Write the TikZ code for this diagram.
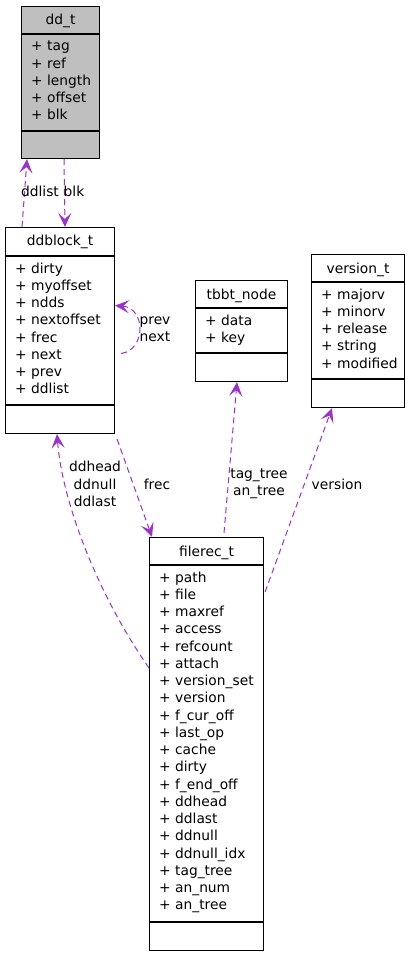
\documentclass[tikz,border=0pt]{standalone}
\usepackage{fontspec}
\setmainfont{DejaVu Sans}
\usepackage{tikz}
\usetikzlibrary{calc,arrows.meta,positioning}
\definecolor{relPurple}{RGB}{154,50,205}
\definecolor{boxGray}{RGB}{191,191,191}

\begin{document}
\begin{tikzpicture}[x=1pt,y=-1pt,
  every node/.style={font=\fontsize{13.8}{17.3}\selectfont},
  classbox/.style 2 args={draw=black, line width=1.1pt, anchor=north west, inner sep=0pt, minimum width=#1, minimum height=#2},
  classname/.style={anchor=base, inner sep=0pt},
  member/.style={anchor=base west, inner sep=0pt},
  rel/.style={relPurple, line width=1pt, dash pattern=on 6pt off 4pt, -{Stealth[length=14pt,width=13pt,inset=6pt]}},
  lbl/.style={align=center, inner sep=0pt}]
\useasboundingbox (0,0) rectangle (409,957);

% dd_t
\node[classbox={78pt}{152pt}, fill=boxGray] (ddt) at (21,6) {};
\draw[line width=1.1pt] ($(ddt.north west)+(0,28)$) -- +(78,0)
  ($(ddt.north west)+(0,125)$) -- +(78,0);
\node[classname] (ddt-name) at ($(ddt.north)+(0,19)$) {dd\_t};
\foreach \m [count=\i from 0] in {tag,ref,length,offset,blk}
  \node[member] (ddt-m\i) at ($(ddt.north west)+(10,{45+17.25*\i})$) {+ \m};

% ddblock_t
\node[classbox={109pt}{206pt}] (ddblock) at (5,227) {};
\draw[line width=1.1pt] ($(ddblock.north west)+(0,29)$) -- +(109,0)
  ($(ddblock.north west)+(0,178)$) -- +(109,0);
\node[classname] (ddblock-name) at ($(ddblock.north)+(0,19)$) {ddblock\_t};
\foreach \m [count=\i from 0] in {dirty,myoffset,ndds,nextoffset,frec,next,prev,ddlist}
  \node[member] (ddblock-m\i) at ($(ddblock.north west)+(10,{46+17.25*\i})$) {+ \m};

% tbbt_node
\node[classbox={92pt}{101pt}] (tbbt) at (195,280) {};
\draw[line width=1.1pt] ($(tbbt.north west)+(0,28)$) -- +(92,0)
  ($(tbbt.north west)+(0,73)$) -- +(92,0);
\node[classname] (tbbt-name) at ($(tbbt.north)+(0,19)$) {tbbt\_node};
\foreach \m [count=\i from 0] in {data,key}
  \node[member] (tbbt-m\i) at ($(tbbt.north west)+(10,{45+17.25*\i})$) {+ \m};

% version_t
\node[classbox={93pt}{153pt}] (version) at (311,254) {};
\draw[line width=1.1pt] ($(version.north west)+(0,28)$) -- +(93,0)
  ($(version.north west)+(0,125)$) -- +(93,0);
\node[classname] (version-name) at ($(version.north)+(0,19)$) {version\_t};
\foreach \m [count=\i from 0] in {majorv,minorv,release,string,modified}
  \node[member] (version-m\i) at ($(version.north west)+(10,{45+17.25*\i})$) {+ \m};

% filerec_t
\node[classbox={114pt}{413pt}] (filerec) at (149,537) {};
\draw[line width=1.1pt] ($(filerec.north west)+(0,28)$) -- +(114,0)
  ($(filerec.north west)+(0,385)$) -- +(114,0);
\node[classname] (filerec-name) at ($(filerec.north)+(0,19)$) {filerec\_t};
\foreach \m [count=\i from 0] in {path,file,maxref,access,refcount,attach,version\_set,version,
    f\_cur\_off,last\_op,cache,dirty,f\_end\_off,ddhead,ddlast,ddnull,ddnull\_idx,tag\_tree,an\_num,an\_tree}
  \node[member] (filerec-m\i) at ($(filerec.north west)+(10,{45+17.25*\i})$) {+ \m};

% relations
\draw[rel] ($(ddblock.north west)+(17,0)$) -- ($(ddt.south west)+(6,0)$);
\draw[rel] ($(ddt.south west)+(43,0)$) -- ($(ddblock.north west)+(60,0)$);
\draw[rel] ($(ddblock.east)+(6,23)$) .. controls (146,350) and (146,308) .. ($(ddblock.east)+(0,-25)$);
\draw[rel] ($(filerec.north west)+(0,131)$) .. controls (96,592) and (62,500) .. ($(ddblock.south west)+(52,0)$);
\draw[rel] ($(ddblock.south east)+(2,5)$) -- ($(filerec.north west)+(3,0)$);
\draw[rel] ($(filerec.north west)+(75,-4)$) -- ($(tbbt.south west)+(42,0)$);
\draw[rel] ($(filerec.north east)+(1,55)$) -- ($(version.south west)+(21,0)$);

\node[lbl] (l-ddlist) at (40,191) {ddlist};
\node[lbl] (l-blk) at (74,191) {blk};
\node[lbl] (l-prevnext) at (155,329) {prev\\next};
\node[lbl] (l-ddhead) at (95,484) {ddhead\\ddnull\\ddlast};
\node[lbl] (l-frec) at (157,484) {frec};
\node[lbl] (l-tree) at (259,484) {tag\_tree\\an\_tree};
\node[lbl] (l-version) at (337,484) {version};
\end{tikzpicture}
\end{document}
